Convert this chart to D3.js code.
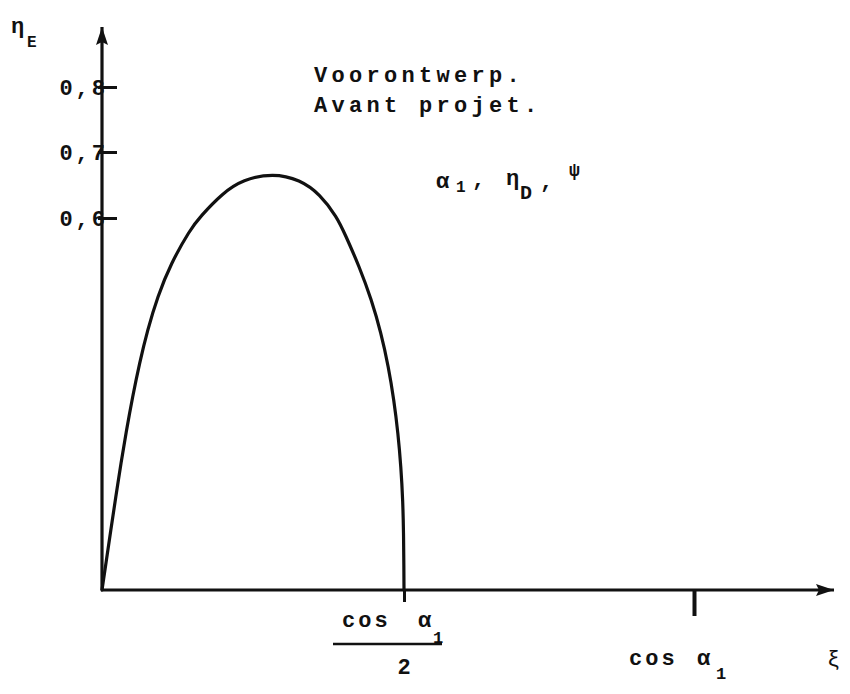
<!DOCTYPE html>
<html>
<head>
<meta charset="utf-8">
<script src="https://cdn.jsdelivr.net/npm/d3@7"></script>
<style>
  html, body { margin: 0; padding: 0; background: #fff; }
  svg { display: block; }
  text { font-family: "Liberation Mono", "DejaVu Sans Mono", monospace; fill: #111; }
</style>
</head>
<body>
<svg id="chart" width="850" height="694"></svg>
<script>
// ---- data ----
const xi  = [0, 0.0066, 0.0146, 0.0228, 0.0315, 0.0406, 0.0505, 0.0621, 0.0753, 0.0919, 0.1142, 0.1457, 0.162, 0.200, 0.233, 0.283, 0.328, 0.361, 0.389, 0.4023, 0.4263, 0.4462, 0.4619, 0.4743, 0.4834, 0.4901, 0.4950, 0.4980, 0.4993, 0.4998, 0.5];
const etaE = [0, 0.0435, 0.0968, 0.150, 0.205, 0.258, 0.311, 0.366, 0.419, 0.473, 0.527, 0.581, 0.6015, 0.638, 0.658, 0.668, 0.658, 0.636, 0.6015, 0.574, 0.521, 0.468, 0.415, 0.360, 0.306, 0.253, 0.198, 0.145, 0.092, 0.037, 0];
const yTicks = [0.6, 0.7, 0.8];
const xTicks = [0.5, 1];
const yTickLabels = ["0,6", "0,7", "0,8"];
const title = ["Voorontwerp.", "Avant projet."];

// ---- scales ----
const x = d3.scaleLinear().domain([0, 0.5, 1, 1.225]).range([102, 404, 694, 834]);
const y = d3.scaleLinear().domain([0, 0.6, 0.7, 0.8, 0.893]).range([590, 218, 152, 87, 27]);

const svg = d3.select("#chart");
const ink = "#111";

// arrow markers
const defs = svg.append("defs");
defs.append("marker").attr("id", "arrowUp")
  .attr("viewBox", "0 0 12 18").attr("refX", 6).attr("refY", 0)
  .attr("markerWidth", 12).attr("markerHeight", 18).attr("markerUnits", "userSpaceOnUse")
  .attr("orient", "0")
  .append("path").attr("d", "M6,0 L12,18 L6,15 L0,18 Z").attr("fill", ink);
defs.append("marker").attr("id", "arrowRight")
  .attr("viewBox", "0 0 18 12").attr("refX", 18).attr("refY", 6)
  .attr("markerWidth", 18).attr("markerHeight", 12).attr("markerUnits", "userSpaceOnUse")
  .attr("orient", "0")
  .append("path").attr("d", "M18,6 L0,0 L3,6 L0,12 Z").attr("fill", ink);

// ---- y axis ----
const yAxis = d3.axisLeft(y).tickValues(yTicks).tickSize(-15).tickSizeOuter(0).tickPadding(-6)
  .tickFormat((d, i) => yTickLabels[i]);
const gy = svg.append("g").attr("transform", `translate(${x(0)},0)`).call(yAxis);
gy.select(".domain").remove();
gy.selectAll(".tick line").attr("stroke", ink).attr("stroke-width", 3).attr("x1", -4);
gy.selectAll(".tick text").attr("font-size", 22).attr("font-weight", "bold")
  .style("letter-spacing", "3px").attr("fill", ink).attr("dy", "0.36em");

svg.append("line")
  .attr("x1", x(0)).attr("y1", y(0)).attr("x2", x(0)).attr("y2", y.range()[4])
  .attr("stroke", ink).attr("stroke-width", 3.2).attr("marker-end", "url(#arrowUp)");

// ---- x axis ----
const xAxis = d3.axisBottom(x).tickValues(xTicks).tickSize(14).tickSizeOuter(0).tickFormat("");
const gx = svg.append("g").attr("transform", `translate(0,${y(0)})`).call(xAxis);
gx.select(".domain").remove();
gx.selectAll(".tick line").attr("stroke", ink)
  .attr("stroke-width", d => d === 1 ? 4 : 3)
  .attr("y2", d => d === 1 ? 26 : 12);

svg.append("line")
  .attr("x1", x(0) - 1).attr("y1", y(0)).attr("x2", x.range()[3]).attr("y2", y(0))
  .attr("stroke", ink).attr("stroke-width", 3).attr("marker-end", "url(#arrowRight)");

// ---- curve ----
const pts = xi.map((v, i) => [v, etaE[i]]);
svg.append("path").datum(pts)
  .attr("fill", "none").attr("stroke", ink).attr("stroke-width", 3.2)
  .attr("stroke-linejoin", "round").attr("stroke-linecap", "round")
  .attr("d", d3.line().x(d => x(d[0])).y(d => y(d[1])).curve(d3.curveBasis));

// ---- x tick labels ----
const fx = x(0.5);
const lab1 = svg.append("text").attr("font-size", 22).attr("font-weight", "bold");
lab1.append("tspan").attr("x", fx - 62).attr("y", 627).style("letter-spacing", "3px").text("cos");
lab1.append("tspan").attr("x", fx + 14).attr("y", 627).text("α");
lab1.append("tspan").attr("x", fx + 29).attr("y", 643).attr("font-size", 17).text("1");
svg.append("line").attr("x1", fx - 71).attr("x2", fx + 38).attr("y1", 644).attr("y2", 644)
  .attr("stroke", ink).attr("stroke-width", 2.5);
svg.append("text").attr("x", fx).attr("y", 674).attr("text-anchor", "middle")
  .attr("font-size", 22).attr("font-weight", "bold").text("2");

const cx = x(1);
const lab2 = svg.append("text").attr("font-size", 22).attr("font-weight", "bold");
lab2.append("tspan").attr("x", cx - 65).attr("y", 665).style("letter-spacing", "3px").text("cos");
lab2.append("tspan").attr("x", cx + 3).attr("y", 665).text("α");
lab2.append("tspan").attr("x", cx + 22).attr("y", 679).attr("font-size", 17).text("1");

svg.append("text").attr("x", 827).attr("y", 666).attr("font-size", 22).text("ξ");

// ---- y axis title ----
const yt = svg.append("text").attr("font-size", 22).attr("font-weight", "bold");
yt.append("tspan").attr("x", 11).attr("y", 33).text("η");
yt.append("tspan").attr("x", 27).attr("y", 47).attr("font-size", 16).text("E");

// ---- annotation ----
svg.selectAll("text.title").data(title).join("text").attr("class", "title")
  .attr("x", 314).attr("y", (d, i) => 82 + i * 30)
  .attr("font-size", 22).attr("font-weight", "bold").style("letter-spacing", "4.3px")
  .text(d => d);

const ann = svg.append("text").attr("font-size", 22).attr("font-weight", "bold");
ann.append("tspan").attr("x", 436).attr("y", 188).text("α");
ann.append("tspan").attr("x", 456).attr("y", 192).attr("font-size", 16).text("1");
ann.append("tspan").attr("x", 472).attr("y", 186).text(",");
ann.append("tspan").attr("x", 506).attr("y", 185).text("η");
ann.append("tspan").attr("x", 520).attr("y", 199).attr("font-size", 20).text("D");
ann.append("tspan").attr("x", 540).attr("y", 188).text(",");
ann.append("tspan").attr("x", 569).attr("y", 176).attr("font-size", 18).text("ψ");
</script>
</body>
</html>
